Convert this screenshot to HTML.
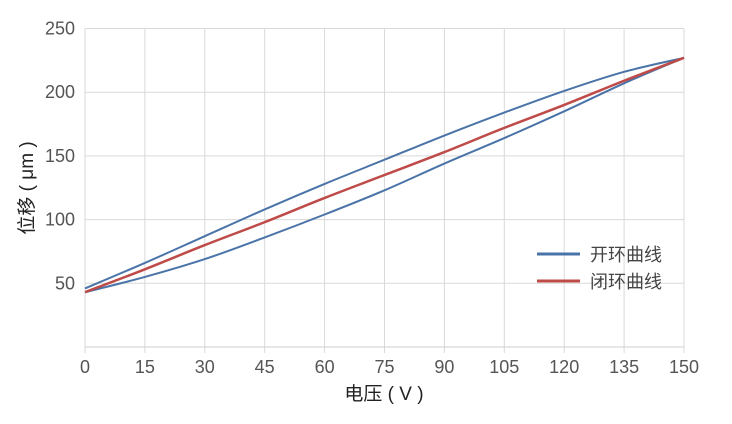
<!DOCTYPE html>
<html><head><meta charset="utf-8"><style>
body{margin:0;background:#fff;}
svg{display:block;font-family:"Liberation Sans","Noto Sans CJK SC",sans-serif;}
</style></head><body>
<svg id="chart" width="732" height="424" viewBox="0 0 732 424" xmlns="http://www.w3.org/2000/svg">
<g id="grid"></g>
<g id="axes"></g>
<g id="series"></g>
<text x="384" y="400" text-anchor="middle" font-size="19" fill="#222">电压 ( V )</text>
<text transform="translate(33,188) rotate(-90)" text-anchor="middle" font-size="19" fill="#222">位移 ( μm )</text>
<g>
<line x1="537" y1="254" x2="580" y2="254" stroke="#4a74a8" stroke-width="3"/>
<text x="590" y="261" font-size="18" fill="#444">开环曲线</text>
<line x1="537" y1="281" x2="580" y2="281" stroke="#be4b48" stroke-width="3"/>
<text x="590" y="288" font-size="18" fill="#444">闭环曲线</text>
</g>
</svg>
<script>
const voltages=[0,15,30,45,60,75,90,105,120,135,150];
const openUp=[43,55,69,86,104,123,144,164,185,207,227];
const openDown=[46,66,87,108,128,147,166,184,201,216,227];
const closedLoop=[43,61,80,98,117,135,153,172,190,209,227];
const xTicks=[0,15,30,45,60,75,90,105,120,135,150];
const yTicks=[50,100,150,200,250];
const NS="http://www.w3.org/2000/svg";
const X0=85,X1=684,Y0=347,Y1=28.5;
const xs=v=>X0+(v-0)/150*(X1-X0);
const ys=v=>Y0-(v-0)/250*(Y0-Y1);
function mk(tag,attrs,parent){const e=document.createElementNS(NS,tag);for(const k in attrs)e.setAttribute(k,attrs[k]);parent.appendChild(e);return e;}
const grid=document.getElementById('grid'),axes=document.getElementById('axes'),series=document.getElementById('series');
xTicks.forEach(t=>{
 const g=mk('line',{x1:xs(t),x2:xs(t),y1:Y1,y2:Y0+6,stroke:'#d9d9d9','stroke-width':1},grid);
 
 
 const l=mk('text',{x:xs(t),y:373,'text-anchor':'middle','font-size':18,fill:'#555'},axes);
 l.textContent=t;
 
 
});
yTicks.forEach(t=>{
 const g=mk('line',{x1:X0,x2:X1,y1:ys(t),y2:ys(t),stroke:'#d9d9d9','stroke-width':1},grid);
 
 
 const l=mk('text',{x:75,y:ys(t)+6,'text-anchor':'end','font-size':18,fill:'#555'},axes);
 l.textContent=t;
 
 
});
const ax=mk('line',{x1:X0,x2:X1,y1:Y0,y2:Y0,stroke:'#cfcfcf','stroke-width':1},axes);


function pathFor(vals){
 const p=voltages.map((v,i)=>[xs(v),ys(vals[i])]);
 let d=`M${p[0][0]},${p[0][1]}`;
 for(let i=0;i<p.length-1;i++){
  const a=p[Math.max(0,i-1)],b=p[i],c=p[i+1],e=p[Math.min(p.length-1,i+2)];
  const c1=[b[0]+(c[0]-a[0])/6,b[1]+(c[1]-a[1])/6],c2=[c[0]-(e[0]-b[0])/6,c[1]-(e[1]-b[1])/6];
  d+=` C${c1[0]},${c1[1]} ${c2[0]},${c2[1]} ${c[0]},${c[1]}`;
 }
 return d;
}
const s1=mk('path',{d:pathFor(openUp),fill:'none',stroke:'#4a74a8','stroke-width':2},series);


const s2=mk('path',{d:pathFor(openDown),fill:'none',stroke:'#4a74a8','stroke-width':2},series);


const s3=mk('path',{d:pathFor(closedLoop),fill:'none',stroke:'#be4b48','stroke-width':2.5},series);


</script>
</body></html>
